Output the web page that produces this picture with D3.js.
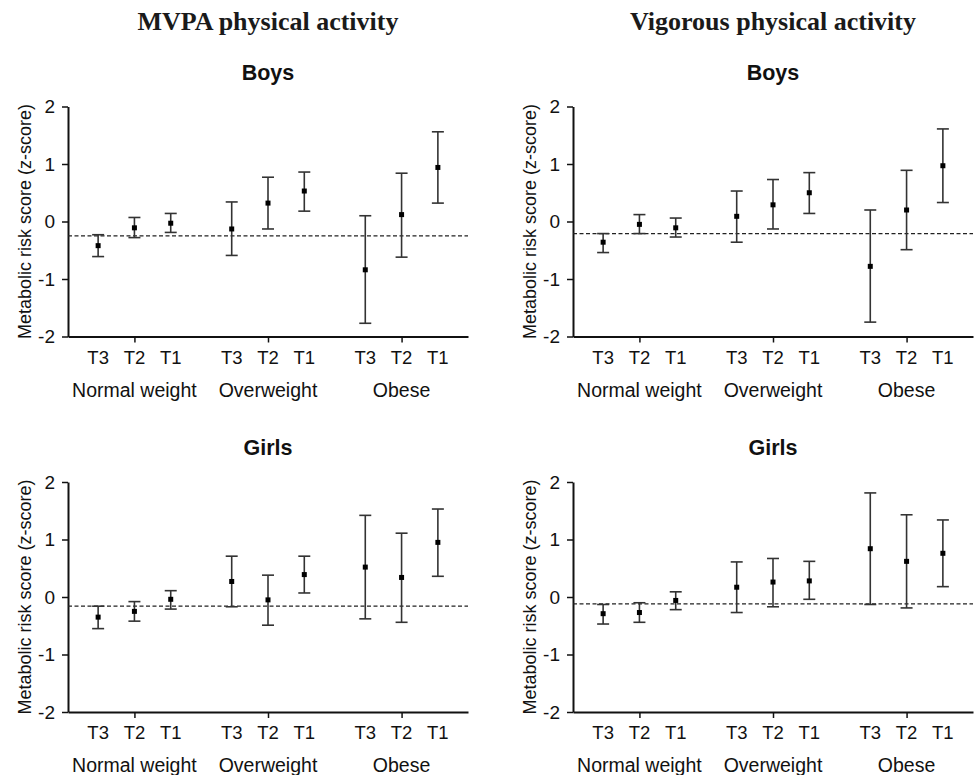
<!DOCTYPE html>
<html>
<head>
<meta charset="utf-8">
<script src="https://cdn.jsdelivr.net/npm/d3@7/dist/d3.min.js"></script>
<style>
  body { margin: 0; background: #fff; }
  svg { display: block; font-family: "Liberation Sans", Arial, Helvetica, sans-serif; }
</style>
</head>
<body>
<div id="chart"></div>
<script>
// Chart values
var groups = ["Normal weight", "Overweight", "Obese"];
var tiers = ["T3", "T2", "T1"];
var yTicks = [-2, -1, 0, 1, 2];
var columnTitles = ["MVPA physical activity", "Vigorous physical activity"];
var rowTitles = ["Boys", "Girls"];

// means / lower / upper, order: Normal T3,T2,T1, Overweight T3,T2,T1, Obese T3,T2,T1
var mvpaBoysMean = [-0.42, -0.11, -0.03, -0.13, 0.32, 0.53, -0.84, 0.12, 0.94];
var mvpaBoysLow = [-0.61, -0.28, -0.19, -0.59, -0.13, 0.18, -1.77, -0.62, 0.32];
var mvpaBoysHigh = [-0.23, 0.07, 0.14, 0.34, 0.77, 0.86, 0.10, 0.84, 1.56];

var vigBoysMean = [-0.36, -0.05, -0.11, 0.09, 0.29, 0.50, -0.78, 0.20, 0.97];
var vigBoysLow = [-0.54, -0.21, -0.27, -0.36, -0.13, 0.14, -1.75, -0.49, 0.33];
var vigBoysHigh = [-0.21, 0.12, 0.06, 0.53, 0.73, 0.85, 0.20, 0.89, 1.61];

var mvpaGirlsMean = [-0.35, -0.25, -0.04, 0.27, -0.05, 0.39, 0.52, 0.34, 0.95];
var mvpaGirlsLow = [-0.55, -0.42, -0.21, -0.17, -0.49, 0.07, -0.38, -0.44, 0.36];
var mvpaGirlsHigh = [-0.16, -0.08, 0.11, 0.71, 0.38, 0.71, 1.42, 1.11, 1.53];

var vigGirlsMean = [-0.29, -0.27, -0.06, 0.17, 0.26, 0.28, 0.84, 0.62, 0.76];
var vigGirlsLow = [-0.47, -0.44, -0.22, -0.27, -0.17, -0.04, -0.13, -0.19, 0.18];
var vigGirlsHigh = [-0.13, -0.10, 0.09, 0.61, 0.67, 0.62, 1.81, 1.43, 1.34];

// dashed reference level per panel
var refMvpaBoys = -0.25;
var refVigBoys = -0.21;
var refMvpaGirls = -0.16;
var refVigGirls = -0.12;

var panels = [
  { col: 0, row: 0, mean: mvpaBoysMean, low: mvpaBoysLow, high: mvpaBoysHigh, ref: refMvpaBoys },
  { col: 1, row: 0, mean: vigBoysMean, low: vigBoysLow, high: vigBoysHigh, ref: refVigBoys },
  { col: 0, row: 1, mean: mvpaGirlsMean, low: mvpaGirlsLow, high: mvpaGirlsHigh, ref: refMvpaGirls },
  { col: 1, row: 1, mean: vigGirlsMean, low: vigGirlsLow, high: vigGirlsHigh, ref: refVigGirls },
];

var width = 974;
var height = 775;
var plotWidth = 400;
var plotHeight = 230;
var panelLeft = [68, 573];
var panelTop = [106.5, 482];
var groupStep = 3.68; // distance between groups, in point units
var pad = 0.83;
var capWidth = 12;
var markerSize = 5;

var svg = d3.select("#chart")
  .append("svg")
  .attr("width", width)
  .attr("height", height);

// positions of each point in "point units"
function position(i) {
  var g = Math.floor(i / tiers.length);
  var k = i % tiers.length;
  return g * groupStep + k;
}

var xScale = d3.scaleLinear()
  .domain([-pad, (groups.length - 1) * groupStep + tiers.length - 1 + pad])
  .range([0, plotWidth]);

var yScale = d3.scaleLinear().domain([-2, 2]).range([plotHeight, 0]);

// Column titles
columnTitles.forEach(function (t, c) {
  svg.append("text")
    .attr("x", panelLeft[c] + plotWidth / 2)
    .attr("y", 30)
    .attr("text-anchor", "middle")
    .style("font-family", "'Liberation Serif', 'Times New Roman', serif")
    .style("font-weight", "bold")
    .style("font-size", "26px")
    .style("fill", "#1a1a1a")
    .text(t);
});

panels.forEach(function (p) {
  var chart = svg.append("g")
    .attr("transform", `translate(${panelLeft[p.col]},${panelTop[p.row]})`);

  var rows = p.mean.map(function (m, i) {
    return { pos: position(i), mean: m, low: p.low[i], high: p.high[i], tier: tiers[i % tiers.length] };
  });

  // panel title
  chart.append("text")
    .attr("x", plotWidth / 2)
    .attr("y", -27)
    .attr("text-anchor", "middle")
    .style("font-weight", "bold")
    .style("font-size", "21.5px")
    .style("fill", "#111")
    .text(rowTitles[p.row]);

  // y axis
  var yAxis = d3.axisLeft(yScale)
    .tickValues(yTicks)
    .tickSize(6)
    .tickSizeOuter(0)
    .tickPadding(7)
    .tickFormat(function (d) { return String(d); });

  var yg = chart.append("g").attr("class", "y axis").call(yAxis);
  yg.select(".domain").attr("stroke", "#111").attr("stroke-width", 2);
  yg.selectAll(".tick line").attr("stroke", "#111").attr("stroke-width", 1.5);
  yg.selectAll(".tick text")
    .style("font-size", "19px")
    .style("font-family", "'Liberation Sans', Arial, sans-serif")
    .attr("fill", "#111");

  chart.append("text")
    .attr("transform", `translate(-43,${plotHeight / 2}) rotate(-90)`)
    .attr("text-anchor", "middle")
    .attr("dy", "0.35em")
    .style("font-size", "18px")
    .style("fill", "#111")
    .text("Metabolic risk score (z-score)");

  // x axis: ticks only under the middle tier of each group
  var midTicks = groups.map(function (g, gi) { return gi * groupStep + 1; });
  var xAxis = d3.axisBottom(xScale)
    .tickValues(midTicks)
    .tickSize(6)
    .tickSizeOuter(0)
    .tickFormat("");

  var xg = chart.append("g")
    .attr("class", "x axis")
    .attr("transform", `translate(0,${plotHeight})`)
    .call(xAxis);
  xg.select(".domain").attr("stroke", "#111").attr("stroke-width", 2);
  xg.selectAll(".tick line").attr("stroke", "#111").attr("stroke-width", 1.5);

  // tier labels
  chart.append("g")
    .selectAll("text")
    .data(rows)
    .enter()
    .append("text")
    .attr("x", (d) => xScale(d.pos))
    .attr("y", plotHeight + 27)
    .attr("text-anchor", "middle")
    .style("font-size", "18.5px")
    .style("fill", "#111")
    .text((d) => d.tier);

  // group labels
  chart.append("g")
    .selectAll("text")
    .data(groups)
    .enter()
    .append("text")
    .attr("x", (d, i) => xScale(i * groupStep + 1))
    .attr("y", plotHeight + 60)
    .attr("text-anchor", "middle")
    .style("font-size", "19.5px")
    .style("fill", "#111")
    .text((d) => d);

  // dashed reference line
  chart.append("line")
    .attr("x1", 0)
    .attr("x2", plotWidth)
    .attr("y1", yScale(p.ref))
    .attr("y2", yScale(p.ref))
    .attr("stroke", "#222")
    .attr("stroke-width", 1.2)
    .attr("stroke-dasharray", "4,2.5");

  // error bars
  var bars = chart.append("g").attr("class", "errorbars");

  bars.selectAll(".stem")
    .data(rows)
    .enter()
    .append("line")
    .attr("x1", (d) => xScale(d.pos))
    .attr("x2", (d) => xScale(d.pos))
    .attr("y1", (d) => yScale(d.low))
    .attr("y2", (d) => yScale(d.high))
    .attr("stroke", "#333")
    .attr("stroke-width", 1.6);

  ["low", "high"].forEach(function (key) {
    bars.selectAll(".cap-" + key)
      .data(rows)
      .enter()
      .append("line")
      .attr("x1", (d) => xScale(d.pos) - capWidth / 2)
      .attr("x2", (d) => xScale(d.pos) + capWidth / 2)
      .attr("y1", (d) => yScale(d[key]))
      .attr("y2", (d) => yScale(d[key]))
      .attr("stroke", "#333")
      .attr("stroke-width", 1.6);
  });

  // means
  chart.append("g")
    .selectAll("rect")
    .data(rows)
    .enter()
    .append("rect")
    .attr("x", (d) => xScale(d.pos) - markerSize / 2)
    .attr("y", (d) => yScale(d.mean) - markerSize / 2)
    .attr("width", markerSize)
    .attr("height", markerSize)
    .attr("fill", "#000");
});
</script>
</body>
</html>
